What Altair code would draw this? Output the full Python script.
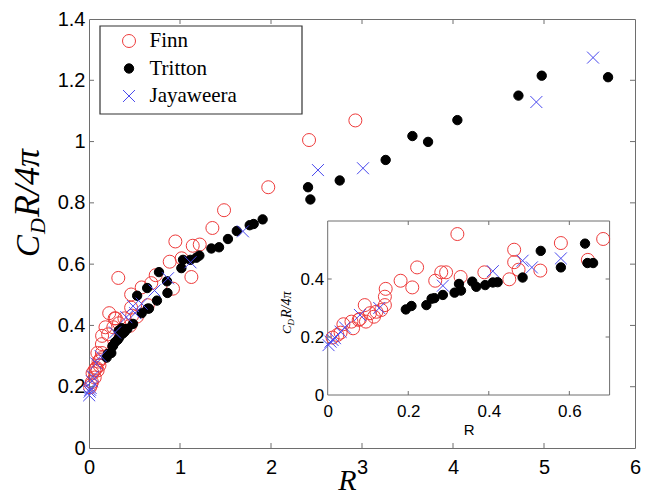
import altair as alt
import pandas as pd

series = ["Finn", "Tritton", "Jayaweera"]

finn_R = [0.012, 0.024, 0.032, 0.039, 0.059, 0.063, 0.077, 0.080, 0.092, 0.095, 0.105, 0.115,
          0.121, 0.133, 0.142, 0.142, 0.144, 0.181, 0.210, 0.222, 0.267, 0.282, 0.294, 0.322,
          0.330, 0.389, 0.451, 0.463, 0.463, 0.474, 0.528, 0.579, 0.646, 0.684, 0.733, 0.887,
          0.923, 0.949, 1.018, 1.125, 1.140, 1.217, 1.356, 1.484, 1.970, 2.418, 2.927]
finn_v = [0.198, 0.207, 0.215, 0.244, 0.253, 0.230, 0.259, 0.262, 0.310, 0.253, 0.282, 0.270,
          0.287, 0.293, 0.310, 0.339, 0.366, 0.394, 0.371, 0.440, 0.394, 0.423, 0.423, 0.555,
          0.407, 0.423, 0.399, 0.501, 0.458, 0.432, 0.429, 0.524, 0.466, 0.538, 0.564, 0.608,
          0.520, 0.674, 0.619, 0.558, 0.660, 0.664, 0.718, 0.776, 0.851, 1.005, 1.069]

tritton_R = [0.194, 0.208, 0.245, 0.258, 0.265, 0.286, 0.315, 0.326, 0.331, 0.359, 0.369, 0.391,
             0.410, 0.422, 0.484, 0.529, 0.579, 0.639, 0.645, 0.659, 0.747, 0.769, 0.857, 0.862,
             1.015, 1.033, 1.114, 1.180, 1.213, 1.345, 1.429, 1.527, 1.624, 1.766, 1.810, 1.908,
             2.407, 2.433, 2.755, 3.260, 3.554, 3.726, 4.048, 4.719, 4.975, 5.704]
tritton_v = [0.295, 0.307, 0.310, 0.332, 0.334, 0.345, 0.353, 0.383, 0.360, 0.391, 0.373, 0.379,
             0.388, 0.389, 0.405, 0.497, 0.440, 0.522, 0.455, 0.455, 0.481, 0.574, 0.544, 0.506,
             0.587, 0.614, 0.614, 0.621, 0.628, 0.651, 0.655, 0.682, 0.708, 0.727, 0.731, 0.746,
             0.851, 0.811, 0.873, 0.940, 1.018, 0.999, 1.070, 1.150, 1.215, 1.210]

jaya_R = [0.002, 0.007, 0.012, 0.018, 0.032, 0.043, 0.080, 0.128, 0.286, 0.410, 0.484, 0.507,
          0.579, 0.720, 0.868, 1.115, 1.692, 2.516, 3.011, 4.916, 5.539]
jaya_v = [0.172, 0.184, 0.190, 0.196, 0.218, 0.233, 0.276, 0.300, 0.377, 0.427, 0.463, 0.440,
          0.471, 0.514, 0.554, 0.606, 0.707, 0.907, 0.913, 1.129, 1.274]

main_xvals = [0, 1, 2, 3, 4, 5, 6]
main_yvals = [0, 0.2, 0.4, 0.6, 0.8, 1.0, 1.2, 1.4]
main_xticks = [1, 2, 3, 4, 5]
main_yticks = [0.2, 0.4, 0.6, 0.8, 1.0, 1.2]
inset_xvals = [0, 0.2, 0.4, 0.6]
inset_yvals = [0, 0.2, 0.4]
inset_xticks = [0.2, 0.4, 0.6]
inset_yticks = [0.2, 0.4]
inset_xlim = [0.0, 0.7]
inset_ylim = [0.0, 0.6]

rows = []
for name, Rs, vs in zip(series, [finn_R, tritton_R, jaya_R], [finn_v, tritton_v, jaya_v]):
    for r, v in zip(Rs, vs):
        rows.append({"R": r, "v": v, "series": name})
df = pd.DataFrame(rows)
inset_df = df[df["R"] <= inset_xlim[1]]

W, H = 546, 429
RED, BLUE = "#ee3b3b", "#4848ee"
FRAME = "#6e6e6e"
SANS = "Liberation Sans"
SERIF = "Liberation Serif"

# inset placement inside the main plot area (pixels)
IX0, IX1 = 238.7, 520.6
IY0, IY1 = 376, 202

shapes = ["circle",
          "M-0.72,0A0.72,0.72 0 1,0 0.72,0A0.72,0.72 0 1,0 -0.72,0Z",
          "M-0.92,-0.92L0.92,0.92M-0.92,0.92L0.92,-0.92"]

leg = alt.Legend(title=None, orient="none", legendX=29.5, legendY=11.5, padding=0,
                 labelFont=SERIF, labelFontSize=21, labelColor="black", labelOffset=10,
                 rowPadding=5.5, symbolSize=169, symbolStrokeWidth=1, labelLimit=300)


def marker_enc():
    return dict(
        stroke=alt.Stroke("series:N", scale=alt.Scale(domain=series, range=[RED, "black", BLUE]), legend=leg),
        fill=alt.Fill("series:N", scale=alt.Scale(domain=series, range=["transparent", "black", "transparent"]), legend=leg),
        shape=alt.Shape("series:N", scale=alt.Scale(domain=series, range=shapes), legend=leg),
    )


xs_main = alt.Scale(domain=[0, 6], nice=False, zero=False)
ys_main = alt.Scale(domain=[0, 1.4], nice=False, zero=False)

main_xaxis = alt.Axis(values=main_xvals, format="d", labelFont=SANS, labelFontSize=20, labelColor="black",
                      labelPadding=9, labelFlush=False, ticks=False, tickSize=0, domain=False, grid=False,
                      title="R", titleFont=SERIF, titleFontStyle="italic", titleFontWeight="normal",
                      titleFontSize=30, titleColor="black", titleX=258, titleY=47, titleBaseline="bottom")
main_yaxis = alt.Axis(values=main_yvals, format="~g", labelFont=SANS, labelFontSize=20, labelColor="black",
                      labelPadding=4, labelFlush=False, ticks=False, tickSize=0, domain=False, grid=False,
                      title=None)

one = pd.DataFrame({"k": [0]})

legend_box = alt.Chart(one).mark_rect(fill="white", stroke="#333333", strokeWidth=1.2).encode(
    x=alt.value(11), x2=alt.value(213), y=alt.value(7), y2=alt.value(95))

main_pts = alt.Chart(df).mark_point(filled=False, size=169, strokeWidth=1, opacity=1).encode(
    x=alt.X("R:Q", scale=xs_main, axis=main_xaxis),
    y=alt.Y("v:Q", scale=ys_main, axis=main_yaxis),
    **marker_enc())

xt = pd.DataFrame({"R": main_xticks})
yt = pd.DataFrame({"v": main_yticks})
tick_bottom = alt.Chart(xt).mark_rule(color=FRAME, strokeWidth=1).encode(
    x=alt.X("R:Q", scale=xs_main, axis=main_xaxis), y=alt.value(H), y2=alt.value(H - 5))
tick_top = alt.Chart(xt).mark_rule(color=FRAME, strokeWidth=1).encode(
    x=alt.X("R:Q", scale=xs_main, axis=main_xaxis), y=alt.value(0), y2=alt.value(5))
tick_left = alt.Chart(yt).mark_rule(color=FRAME, strokeWidth=1).encode(
    y=alt.Y("v:Q", scale=ys_main, axis=main_yaxis), x=alt.value(0), x2=alt.value(5))
tick_right = alt.Chart(yt).mark_rule(color=FRAME, strokeWidth=1).encode(
    y=alt.Y("v:Q", scale=ys_main, axis=main_yaxis), x=alt.value(W), x2=alt.value(W - 5))


def piece(txt, x, y, size):
    return alt.Chart(one).mark_text(text=txt, font=SERIF, fontStyle="italic", fontSize=size, angle=270,
                                    align="left", baseline="alphabetic", color="black").encode(
        x=alt.value(x), y=alt.value(y))


# main y title  C_D R/4π
ytitle = [piece("C", -50, 238, 33), piece("D", -44, 215, 22), piece("R/4π", -50, 198, 36)]
# inset y title
iytitle = [piece("C", 202, 315, 13), piece("D", 204.5, 306.5, 9), piece("R/4π", 202, 299, 14)]

main_group = alt.layer(main_pts, legend_box, tick_bottom, tick_top, tick_left, tick_right, *ytitle, *iytitle)

xs_in = alt.Scale(domain=inset_xlim, range=[IX0, IX1], nice=False, zero=False)
ys_in = alt.Scale(domain=inset_ylim, range=[IY0, IY1], nice=False, zero=False)

inset_xaxis = alt.Axis(orient="bottom", offset=-(H - IY0), values=inset_xvals, format="~g",
                       labelFont=SANS, labelFontSize=17, labelColor="black", labelPadding=8, labelFlush=False,
                       ticks=False, tickSize=0, domain=False, grid=False,
                       title="R", titleFont=SANS, titleFontSize=15, titleFontWeight="normal",
                       titleColor="black", titlePadding=3)
inset_yaxis = alt.Axis(orient="left", offset=-IX0, values=inset_yvals, format="~g",
                       labelFont=SANS, labelFontSize=17, labelColor="black", labelPadding=4, labelFlush=False,
                       ticks=False, tickSize=0, domain=False, grid=False, title=None)

frame_df = pd.DataFrame({"R": [inset_xlim[0]], "R2": [inset_xlim[1]], "v": [inset_ylim[0]], "v2": [inset_ylim[1]]})
inset_frame = alt.Chart(frame_df).mark_rect(fill="white", stroke=FRAME, strokeWidth=1).encode(
    x=alt.X("R:Q", scale=xs_in, axis=inset_xaxis), x2="R2:Q",
    y=alt.Y("v:Q", scale=ys_in, axis=inset_yaxis), y2="v2:Q")

inset_pts = alt.Chart(inset_df).mark_point(filled=False, size=169, strokeWidth=1, opacity=1).encode(
    x=alt.X("R:Q", scale=xs_in, axis=inset_xaxis),
    y=alt.Y("v:Q", scale=ys_in, axis=inset_yaxis),
    **marker_enc())

ixt = pd.DataFrame({"R": inset_xticks})
iyt = pd.DataFrame({"v": inset_yticks})
itb = alt.Chart(ixt).mark_rule(color=FRAME, strokeWidth=1).encode(
    x=alt.X("R:Q", scale=xs_in, axis=inset_xaxis), y=alt.value(IY0), y2=alt.value(IY0 - 4))
itt = alt.Chart(ixt).mark_rule(color=FRAME, strokeWidth=1).encode(
    x=alt.X("R:Q", scale=xs_in, axis=inset_xaxis), y=alt.value(IY1), y2=alt.value(IY1 + 4))
itl = alt.Chart(iyt).mark_rule(color=FRAME, strokeWidth=1).encode(
    y=alt.Y("v:Q", scale=ys_in, axis=inset_yaxis), x=alt.value(IX0), x2=alt.value(IX0 + 4))
itr = alt.Chart(iyt).mark_rule(color=FRAME, strokeWidth=1).encode(
    y=alt.Y("v:Q", scale=ys_in, axis=inset_yaxis), x=alt.value(IX1), x2=alt.value(IX1 - 4))

inset_group = alt.layer(inset_frame, inset_pts, itb, itt, itl, itr)

chart = alt.layer(main_group, inset_group).resolve_scale(
    x="independent", y="independent"
).properties(
    width=W, height=H,
    padding={"left": 81, "top": 11, "right": 8, "bottom": 48},
    autosize=alt.AutoSizeParams(type="none"),
    background="white",
).configure_view(stroke=FRAME, strokeWidth=1).configure_axis(grid=False)

chart.save("out.html", embed_options={"renderer": "svg", "actions": False})
